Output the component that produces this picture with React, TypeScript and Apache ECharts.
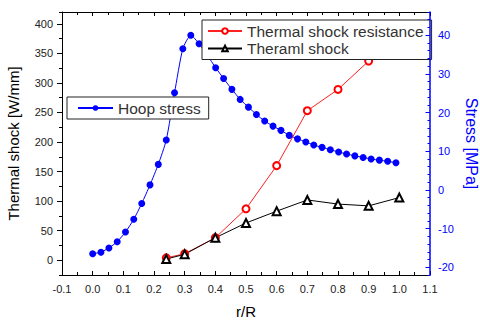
import React, { useEffect, useRef } from "react";
import * as echarts from "echarts";

// r/R positions of the hoop-stress points
const hoopX = [0, 0.027, 0.053, 0.08, 0.107, 0.134, 0.16, 0.187, 0.214, 0.24, 0.267, 0.294, 0.32, 0.347, 0.374, 0.401, 0.427, 0.454, 0.481, 0.508, 0.534, 0.561, 0.588, 0.614, 0.641, 0.668, 0.695, 0.721, 0.748, 0.775, 0.802, 0.828, 0.855, 0.882, 0.908, 0.935, 0.962, 0.989];
// Hoop stress [MPa] (right axis)
const hoopStress = [-16.5, -16.1, -15.0, -13.4, -10.9, -7.6, -3.5, 1.3, 6.6, 12.9, 25.1, 36.5, 40.0, 37.8, 34.8, 31.6, 28.8, 26.0, 23.4, 21.4, 19.5, 17.8, 16.5, 15.4, 14.1, 13.2, 12.4, 11.6, 11.0, 10.4, 9.8, 9.3, 8.8, 8.4, 8.0, 7.7, 7.4, 7.0];
// r/R positions of thermal shock points
const thermalX = [0.24, 0.3, 0.4, 0.5, 0.6, 0.7, 0.8, 0.9, 1.0];
// Thermal shock resistance [W/mm]
const resistance = [4, 11, 38, 87, 160, 253, 289, 337, 390];
// Theraml shock [W/mm]
const shock = [2, 10, 38, 63, 83, 102, 95, 92, 106];

const leftMajor = [0, 50, 100, 150, 200, 250, 300, 350, 400];
const rightMajor = [-20, -10, 0, 10, 20, 30, 40];

const FONT = "'Liberation Sans', Arial, sans-serif";
const BLUE = "#0000ff";

export default function App() {
  const ref = useRef<HTMLDivElement>(null);
  useEffect(() => {
    if (!ref.current) return;
    const chart = echarts.init(ref.current, null, { renderer: "svg" });
    const fmtX = (v: number) => (Math.abs(v) < 1e-9 ? "0.0" : v.toFixed(1));
    const legendText = { fontFamily: FONT, fontSize: 15.5, color: "#333", lineHeight: 15 };
    const option: any = {
      animation: false,
      backgroundColor: "#fff",
      textStyle: { fontFamily: FONT },
      grid: { left: 62, right: 50, top: 12, bottom: 45, containLabel: false, outerBoundsMode: "none" },
      legend: [
        {
          data: ["Hoop stress"],
          left: 67,
          top: 97,
          orient: "vertical",
          padding: [3, 8, 3, 10],
          itemWidth: 35,
          itemHeight: 7,
          itemGap: 1.5,
          backgroundColor: "#fff",
          borderColor: "#222",
          borderWidth: 1,
          selectedMode: false,
          textStyle: legendText,
        },
        {
          data: ["Thermal shock resistance", "Theraml shock"],
          left: 202,
          top: 20,
          orient: "vertical",
          padding: [3, 8, 3, 5],
          itemWidth: 34,
          itemHeight: 7,
          itemGap: 1.5,
          backgroundColor: "#fff",
          borderColor: "#222",
          borderWidth: 1,
          selectedMode: false,
          textStyle: legendText,
        },
      ],
      xAxis: [
        {
          type: "value",
          position: "bottom",
          min: -0.1,
          max: 1.1,
          interval: 0.1,
          axisLine: { show: true, onZero: false, lineStyle: { color: "#000", width: 1 } },
          axisTick: { show: true, inside: true, length: 4, lineStyle: { color: "#000" } },
          minorTick: { show: true, splitNumber: 2, length: 3, lineStyle: { color: "#000" } },
          axisLabel: { show: true, margin: 8, fontSize: 11, color: "#222", fontFamily: FONT, formatter: fmtX, showMinLabel: true, showMaxLabel: true },
          splitLine: { show: false },
          name: "r/R",
          nameLocation: "middle",
          nameGap: 29,
          nameMoveOverlap: false,
          nameTextStyle: { fontSize: 15, color: "#000", fontFamily: FONT },
        },
        {
          type: "value",
          position: "top",
          min: -0.1,
          max: 1.1,
          interval: 0.1,
          axisLine: { show: true, onZero: false, lineStyle: { color: "#000", width: 1 } },
          axisTick: { show: true, inside: true, length: 4, lineStyle: { color: "#000" } },
          minorTick: { show: true, splitNumber: 2, length: 3, lineStyle: { color: "#000" } },
          axisLabel: { show: false },
          splitLine: { show: false },
        },
      ],
      yAxis: [
        {
          type: "value",
          position: "left",
          min: -25,
          max: 420,
          interval: 25,
          axisLine: { show: true, onZero: false, lineStyle: { color: "#000", width: 1 } },
          axisTick: { show: true, inside: false, length: 3, lineStyle: { color: "#000" } },
          axisLabel: {
            show: true,
            margin: 9,
            fontSize: 11,
            color: "#222",
            fontFamily: FONT,
            formatter: (v: number) => (leftMajor.indexOf(Math.round(v)) >= 0 && Math.abs(v - Math.round(v)) < 1e-6 ? String(Math.round(v)) : ""),
          },
          splitLine: { show: false },
          name: "Thermal shock [W/mm]",
          nameLocation: "middle",
          nameGap: 41,
          nameRotate: 90,
          nameMoveOverlap: false,
          nameTextStyle: { fontSize: 15, color: "#000", fontFamily: FONT },
        },
        {
          type: "value",
          position: "right",
          min: -22,
          max: 46,
          interval: 2,
          z: 6,
          axisLine: { show: true, onZero: false, lineStyle: { color: BLUE, width: 1.5 } },
          axisTick: { show: true, inside: true, length: 2.5, lineStyle: { color: BLUE } },
          axisLabel: {
            show: true,
            margin: 8,
            fontSize: 11,
            color: BLUE,
            fontFamily: FONT,
            formatter: (v: number) => (rightMajor.indexOf(Math.round(v)) >= 0 && Math.abs(v - Math.round(v)) < 1e-6 ? String(Math.round(v)) : ""),
          },
          splitLine: { show: false },
          name: "Stress [MPa]",
          nameLocation: "middle",
          nameGap: 33,
          nameRotate: -90,
          nameMoveOverlap: false,
          nameTextStyle: { fontSize: 16, color: BLUE, fontFamily: FONT },
        },
        {
          type: "value",
          position: "left",
          min: -25,
          max: 420,
          axisLine: { show: false, onZero: false },
          axisTick: { show: true, inside: false, length: 5, customValues: leftMajor, lineStyle: { color: "#000" } },
          axisLabel: { show: false },
          splitLine: { show: false },
        },
        {
          type: "value",
          position: "right",
          min: -22,
          max: 46,
          z: 6,
          axisLine: { show: false, onZero: false },
          axisTick: { show: true, inside: true, length: 4.5, customValues: rightMajor, lineStyle: { color: BLUE } },
          axisLabel: { show: false },
          splitLine: { show: false },
        },
      ],
      series: [
        {
          name: "Hoop stress",
          type: "line",
          xAxisIndex: 0,
          yAxisIndex: 1,
          data: hoopX.map((x, i) => [x, hoopStress[i]]),
          symbol: "circle",
          symbolSize: 7,
          smooth: 0.2,
          itemStyle: { color: BLUE },
          lineStyle: { color: BLUE, width: 1 },
        },
        {
          name: "Thermal shock resistance",
          type: "line",
          xAxisIndex: 0,
          yAxisIndex: 0,
          data: thermalX.map((x, i) => [x, resistance[i]]),
          symbol: "emptyCircle",
          symbolSize: 7,
          itemStyle: { color: "#ff0000" },
          lineStyle: { color: "#ff2020", width: 1 },
        },
        {
          name: "Theraml shock",
          type: "line",
          xAxisIndex: 0,
          yAxisIndex: 0,
          data: thermalX.map((x, i) => [x, shock[i]]),
          symbol: "emptyTriangle",
          symbolSize: 8,
          itemStyle: { color: "#000" },
          lineStyle: { color: "#000", width: 1 },
        },
      ],
    };
    chart.setOption(option);
    return () => chart.dispose();
  }, []);
  return <div ref={ref} style={{ position: "absolute", left: 0, top: 0, width: 480, height: 320 }} />;
}
